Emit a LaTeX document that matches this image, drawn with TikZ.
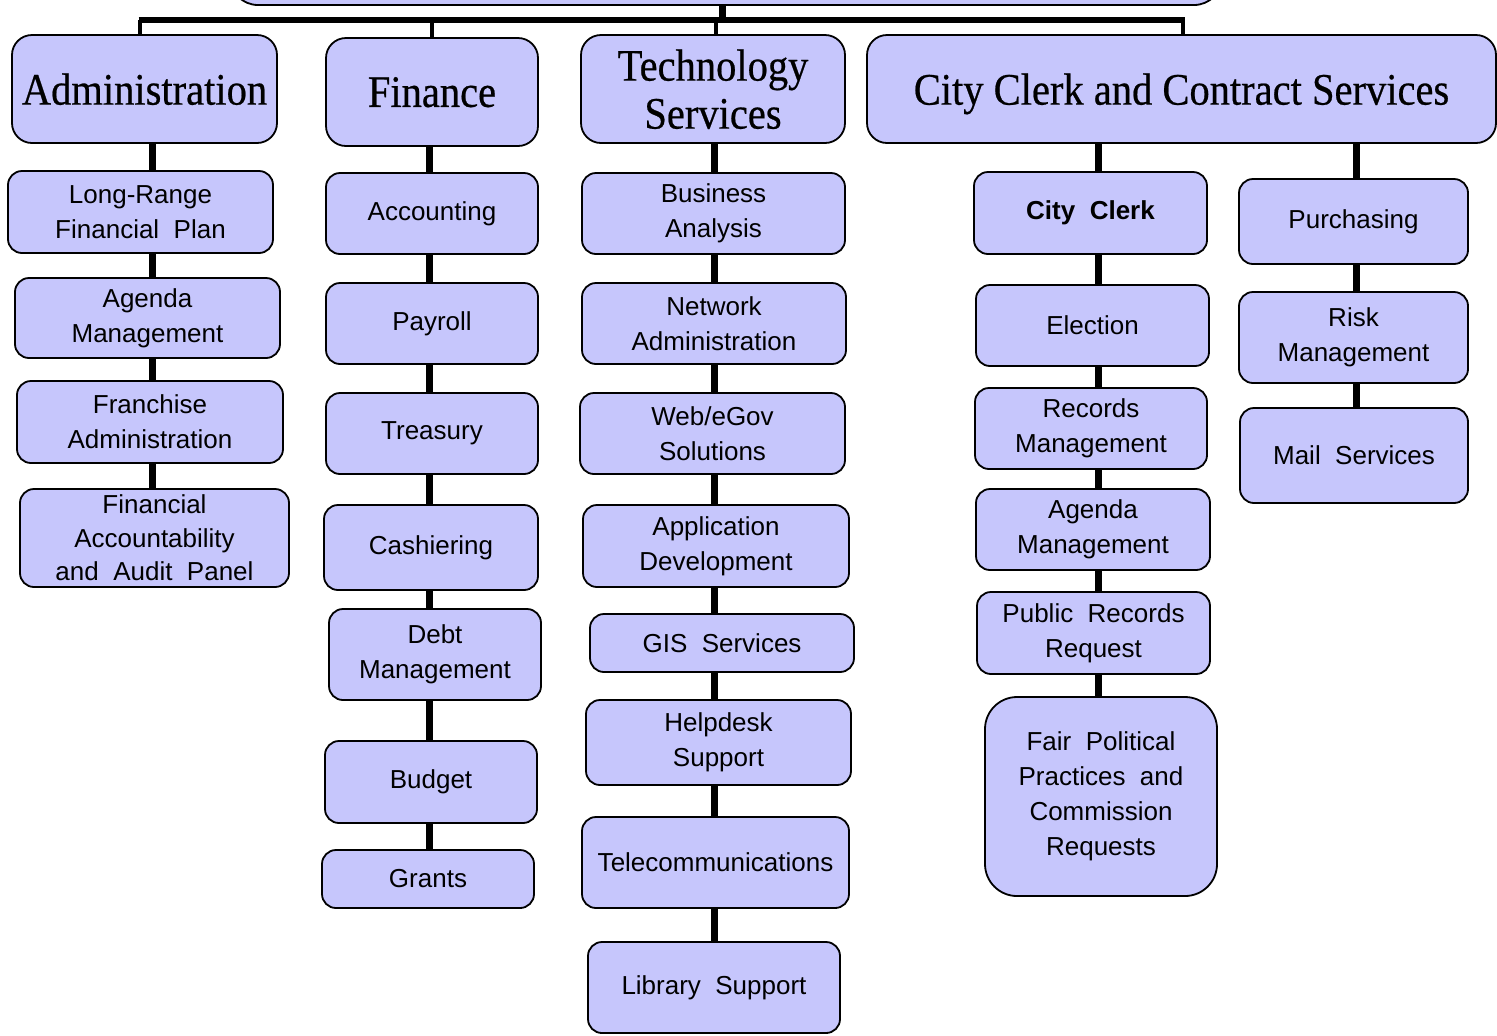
\documentclass[tikz,border=0pt]{standalone}
\usepackage{fontspec}
\setmainfont{Liberation Sans}
\newfontfamily\headfont[FakeStretch=0.9,FakeBold=0.5]{Liberation Serif}
\definecolor{boxfill}{RGB}{198,198,252}

\tikzset{
  orgbox/.style={draw=black, line width=0.9pt, fill=boxfill, rounded corners=7pt,
    align=center, inner sep=0pt, font=\fontsize{13}{17.5}\selectfont},
  headbox/.style={orgbox, rounded corners=10pt, text depth=0pt,
    font=\headfont\fontsize{22.5}{24}\selectfont},
  link/.style={line width=3.5pt},
  bus/.style={line width=3pt},
  drop/.style={line width=2.2pt},
}

% box from its corner pixels: [style] name x1 y1 x2 y2 text
\newcommand\orgnode[7][]{%
  \node[orgbox,#1, minimum width={(#5-#3)*0.5pt}, minimum height={(#6-#4)*0.5pt}]
    (#2) at ({(#3+#5)/2},{(#4+#6)/2}) {#7};}

\begin{document}
\begin{tikzpicture}[x=0.5pt, y=-0.5pt]
\useasboundingbox (0,0) rectangle (1497,1035);
\clip (0,0) rectangle (1497,1035);

% top level
\orgnode[headbox, rounded corners=14pt]{top}{230}{-60}{1222}{5}{}

% departments
\orgnode[headbox]{adm}{12}{35}{277}{143}{Administration}
\orgnode[headbox]{fin}{326}{38}{538}{146}{Finance}
\orgnode[headbox]{tech}{581}{35}{845}{143}{Technology\\Services}
\orgnode[headbox]{ccs}{867}{35}{1496}{143}{City Clerk and Contract Services}

% Administration
\orgnode{lrfp}{8}{171}{273}{253}{Long-Range\\Financial~~Plan}
\orgnode{agmA}{15}{278}{280}{358}{Agenda\\Management}
\orgnode{fra}{17}{381}{283}{463}{Franchise\\Administration}
\orgnode[font=\fontsize{13}{16.75}\selectfont]{faap}{20}{489}{289}{587}{Financial\\Accountability\\and~~Audit~~Panel}

% Finance
\orgnode{acc}{326}{173}{538}{254}{Accounting}
\orgnode{pay}{326}{283}{538}{364}{Payroll}
\orgnode{tre}{326}{393}{538}{474}{Treasury}
\orgnode{cash}{324}{505}{538}{590}{Cashiering}
\orgnode{debt}{329}{609}{541}{700}{Debt\\Management}
\orgnode{bud}{325}{741}{537}{823}{Budget}
\orgnode{gra}{322}{850}{534}{908}{Grants}

% Technology Services
\orgnode{ba}{582}{173}{845}{254}{Business\\Analysis}
\orgnode{net}{582}{283}{846}{364}{Network\\Administration}
\orgnode{web}{580}{393}{845}{474}{Web/eGov\\Solutions}
\orgnode{app}{583}{505}{849}{587}{Application\\Development}
\orgnode{gis}{590}{614}{854}{672}{GIS~~Services}
\orgnode{help}{586}{700}{851}{785}{Helpdesk\\Support}
\orgnode{tele}{582}{817}{849}{908}{Telecommunications}
\orgnode{lib}{588}{942}{840}{1033}{Library~~Support}

% City Clerk and Contract Services
\orgnode[font=\bfseries\fontsize{13}{17.5}\selectfont]{clerk}{974}{172}{1207}{254}{City~~Clerk}
\orgnode{elec}{976}{285}{1209}{366}{Election}
\orgnode{rec}{975}{388}{1207}{469}{Records\\Management}
\orgnode{agmC}{976}{489}{1210}{570}{Agenda\\Management}
\orgnode{prr}{977}{592}{1210}{674}{Public~~Records\\Request}
\orgnode[rounded corners=16pt]{fpp}{985}{697}{1217}{896}{Fair~~Political\\Practices~~and\\Commission\\Requests}
\orgnode{pur}{1239}{179}{1468}{264}{Purchasing}
\orgnode{risk}{1239}{292}{1468}{383}{Risk\\Management}
\orgnode{mail}{1240}{408}{1468}{503}{Mail~~Services}

% bus from the top box to the departments
\coordinate (j0) at (722,20);
\coordinate (busL) at (140,20);
\coordinate (busR) at (1183,20);
\coordinate (bF) at (432,20);
\coordinate (bT) at (716,20);
\draw[link] (top.south -| j0) -- (j0);
\draw[bus] ([xshift=-0.75pt]busL) -- ([xshift=0.75pt]busR);
\draw[drop] (busL) -- (adm.north -| busL);
\draw[drop] (bF) -- (fin.north -| bF);
\draw[drop] (bT) -- (tech.north -| bT);
\draw[drop] (busR) -- (ccs.north -| busR);

% column spines
\coordinate (cA) at (152,0);
\coordinate (cB) at (429,0);
\coordinate (cT) at (714,0);
\coordinate (cC) at (1098,0);
\coordinate (cP) at (1356,0);

\foreach \a/\b in {adm/lrfp, lrfp/agmA, agmA/fra, fra/faap}
  \draw[link] (\a.south -| cA) -- (\b.north -| cA);
\foreach \a/\b in {fin/acc, acc/pay, pay/tre, tre/cash, cash/debt, debt/bud, bud/gra}
  \draw[link] (\a.south -| cB) -- (\b.north -| cB);
\foreach \a/\b in {tech/ba, ba/net, net/web, web/app, app/gis, gis/help, help/tele, tele/lib}
  \draw[link] (\a.south -| cT) -- (\b.north -| cT);
\foreach \a/\b in {ccs/clerk, clerk/elec, elec/rec, rec/agmC, agmC/prr, prr/fpp}
  \draw[link] (\a.south -| cC) -- (\b.north -| cC);
\foreach \a/\b in {ccs/pur, pur/risk, risk/mail}
  \draw[link] (\a.south -| cP) -- (\b.north -| cP);
\end{tikzpicture}
\end{document}
